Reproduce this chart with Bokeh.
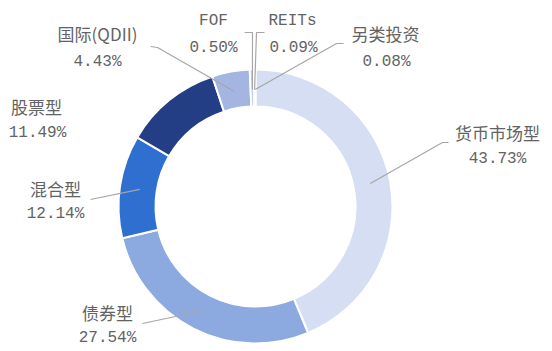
import math
from bokeh.plotting import figure
from bokeh.models import Range1d, ColumnDataSource
from bokeh.core.properties import value
from bokeh.embed import file_html
from bokeh.resources import INLINE

# ---- data ----
categories = ["货币市场型", "债券型", "混合型", "股票型", "国际(QDII)", "FOF", "REITs", "另类投资"]
shares = [43.73, 27.54, 12.14, 11.49, 4.43, 0.50, 0.09, 0.08]
colors = ["#D5DEF2", "#8DAAE0", "#2F6FD0", "#243E85", "#A4B5E2", "#C3CFEC", "#9FB3E0", "#7D9BDB"]

# ---- layout (screen px, y downward) ----
W, H = 552, 351
CX, CY = 255, 206
R_OUT, R_IN, R_ANCHOR = 137, 100, 117

name_pos = [(497, 132), (107, 312), (55, 188), (36, 106), (97, 33), (213, 20), (292, 20), (385, 33)]
val_pos = [(497, 158), (107, 337), (55, 213), (37, 132), (97, 61), (213, 47), (293, 47), (386, 61)]
name_font = ["Noto Sans CJK SC"] * 5 + ["Liberation Mono", "Liberation Mono", "Noto Sans CJK SC"]
# leader elbows (from label toward slice); None = no leader
leaders = [
    [(448, 142), (442, 142)],
    [(142, 323)],
    [(90, 199)],
    None,
    [(150, 46), (157, 47)],
    [(244, 32), (252, 32)],
    [(264, 32), (256, 32)],
    [(343, 43), (336, 43)],
]

def Y(y):
    return H - y

total = sum(shares)
starts, ends, mids = [], [], []
cum = 0.0
for v in shares:
    a0 = math.pi / 2 - 2 * math.pi * cum / total
    a1 = math.pi / 2 - 2 * math.pi * (cum + v) / total
    starts.append(a0)
    ends.append(a1)
    mids.append((a0 + a1) / 2)
    cum += v

p = figure(width=W, height=H, x_range=Range1d(0, W), y_range=Range1d(0, H),
           output_backend="svg", toolbar_location=None, min_border=0)
p.axis.visible = False
p.grid.visible = False
p.outline_line_color = None
p.background_fill_color = "white"
p.border_fill_color = "white"

src = ColumnDataSource(dict(start=starts, end=ends, color=colors, cat=categories))
p.annular_wedge(x=CX, y=Y(CY), inner_radius=R_IN, outer_radius=R_OUT,
                inner_radius_units="screen", outer_radius_units="screen",
                start_angle="start", end_angle="end", direction="clock",
                fill_color="color", line_color="white", line_width=2, source=src)

# leader lines
xs, ys = [], []
for i, pts in enumerate(leaders):
    if pts is None:
        continue
    ax = CX + R_ANCHOR * math.cos(mids[i])
    ay = Y(CY) + R_ANCHOR * math.sin(mids[i])
    xs.append([q[0] for q in pts] + [ax])
    ys.append([Y(q[1]) for q in pts] + [ay])
p.multi_line(xs=xs, ys=ys, line_color="#A6A6A6", line_width=1.2)

# labels
val_text = [f"{v:.2f}%" for v in shares]
for i, cat in enumerate(categories):
    mono = name_font[i] == "Liberation Mono"
    p.text(x=[name_pos[i][0]], y=[Y(name_pos[i][1])], text=[cat],
           text_align="center", text_baseline="middle",
           text_font=value(name_font[i]), text_font_size="16px" if mono else "17px",
           text_color="#636363")
p.text(x=[q[0] for q in val_pos], y=[Y(q[1]) for q in val_pos], text=val_text,
       text_align="center", text_baseline="middle",
       text_font=value("Liberation Mono"), text_font_size="16px", text_color="#636363")

open("out.html", "w").write(file_html(p, INLINE))
